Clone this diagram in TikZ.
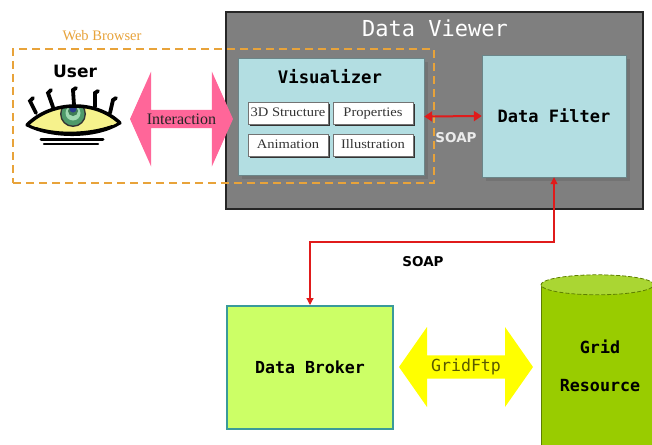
\documentclass[tikz,border=0pt]{standalone}
\usepackage{fontspec}
\setmainfont{Liberation Serif}
\newfontfamily\monofont{DejaVu Sans Mono}
\newfontfamily\sansfont{DejaVu Sans}
\usetikzlibrary{shapes.arrows, arrows.meta, shadows}

\definecolor{viewergray}{HTML}{7F7F7F}
\definecolor{panelblue}{HTML}{B3DEE2}
\definecolor{browserorange}{HTML}{E8A33A}
\definecolor{linkred}{HTML}{E01B1B}
\definecolor{brokergreen}{HTML}{CCFF66}
\definecolor{brokeredge}{HTML}{3A9A9A}
\definecolor{resourcegreen}{HTML}{99CC00}
\definecolor{resourcetop}{HTML}{AAD633}
\definecolor{resourceedge}{HTML}{5E7F00}
\definecolor{ftpyellow}{HTML}{FFFF00}
\definecolor{ftptext}{HTML}{5A5A00}
\definecolor{interpink}{HTML}{FF6699}
\definecolor{eyeyellow}{HTML}{F6F28C}
\definecolor{irisgreen}{HTML}{4E9A6A}
\definecolor{irislight}{HTML}{9FD8B0}
\definecolor{pupilblue}{HTML}{2A3C8C}

\newcommand\monoat[1]{\monofont\fontsize{#1}{#1}\selectfont}
\newcommand\sansat[1]{\sansfont\fontsize{#1}{#1}\selectfont}
\newcommand\serifat[1]{\fontsize{#1}{#1}\selectfont}
% slightly widened serif labels for the Visualizer parts
\newcommand\partlabel[1]{\scalebox{1.12}[1]{#1}}

\tikzset{
  viewerbox/.style={fill=viewergray, draw=black!85, line width=1.5pt, inner sep=0},
  browserbox/.style={draw=browserorange, line width=2pt, dash pattern=on 8pt off 5pt, inner sep=0},
  panel/.style={fill=panelblue, draw=panelblue!60!black, line width=0.4pt, inner sep=0,
    drop shadow={shadow xshift=4pt, shadow yshift=-4pt, fill=black!55, opacity=1}},
  subbox/.style={fill=white, draw=black!55, line width=0.4pt, inner sep=0,
    minimum width=80pt, minimum height=22pt, text height=8.5pt, text depth=2.5pt,
    font=\serifat{13}, text=black!80,
    drop shadow={shadow xshift=1.5pt, shadow yshift=-1.5pt, fill=black!80, opacity=1}},
  broker/.style={fill=brokergreen, draw=brokeredge, line width=2pt, inner sep=0},
  linkarrow/.style={draw=linkred, line width=1.2pt,
    {Triangle[length=7pt,width=7pt]}-{Triangle[length=7pt,width=7pt]}},
  soaparrow/.style={draw=linkred, line width=2pt,
    {Triangle[length=8pt,width=10pt]}-{Triangle[length=8pt,width=10pt]}},
  fatarrow/.style={double arrow, inner sep=0, draw=none},
  label/.style={inner sep=0},
  lash/.style={line width=3.8pt, line cap=round, black},
}

\begin{document}
\begin{tikzpicture}[x=1pt,y=-1pt]
\clip (0,0) rectangle (652,444);
\fill[white] (0,0) rectangle (652,444);

% Data Viewer container
\node[viewerbox, minimum width=417pt, minimum height=197pt] (viewer) at (434.5,110.5) {};
\node[label, text=white, font=\monoat{22}] (viewertitle) at (435,28) {Data Viewer};

% Web Browser region
\node[browserbox, minimum width=421pt, minimum height=134pt] (browser) at (223.5,116) {};
\node[label, text=browserorange, font=\serifat{14.5}] (browsertitle) at (102,36) {Web Browser};

% Visualizer panel and its parts
\node[panel, minimum width=186pt, minimum height=117pt] (vis) at (331,116.5) {};
\node[label, font=\monoat{17.3}\bfseries] (vistitle) at (330,77) {Visualizer};
\node[subbox] (struct) at (288,113) {\partlabel{3D Structure}};
\node[subbox] (props) at (373,113) {\partlabel{Properties}};
\node[subbox] (anim) at (288,145.5) {\partlabel{Animation}};
\node[subbox] (illus) at (373,145.5) {\partlabel{Illustration}};

% Data Filter panel
\node[panel, minimum width=144pt, minimum height=122pt, font=\monoat{17}\bfseries] (filter) at (554,116) {Data Filter};

% SOAP between Visualizer and Data Filter
\draw[soaparrow] (vis.east) -- (filter.west);
\node[label, text=white!92!black, font=\sansat{13.5}\bfseries] (soapin) at (456,138) {SOAP};

% Data Broker
\node[broker, minimum width=166pt, minimum height=123pt, font=\monoat{16.6}\bfseries] (broker) at (310,367.5) {Data Broker};

% SOAP between Data Filter and Data Broker
\coordinate (soaplevel) at (0,242);
\draw[linkarrow] (filter.south) -- (filter.south |- soaplevel) -| (broker.north);
\node[label, font=\sansat{13.5}\bfseries] (soapout) at (423,262) {SOAP};

% Grid Resource cylinder
\node[label, minimum width=113pt, minimum height=170pt] (resource) at (597.5,368) {};
\fill[resourcegreen, draw=resourceedge, line width=0.6pt]
  (resource.north west) -- ([yshift=-10pt]resource.south west)
  -- ([yshift=-10pt]resource.south east) -- (resource.north east);
\draw[fill=resourcetop, draw=resourceedge, line width=0.8pt, dash pattern=on 4pt off 2pt]
  ([yshift=-2pt]resource.north) ellipse [x radius=56.5pt, y radius=10pt];
\node[label, align=center, font=\monoat{16.7}\bfseries] (resourcetext) at (600,366)
  {Grid\\[21pt]Resource};

% GridFtp transfer
\node[fatarrow, fill=ftpyellow, minimum height=134pt, minimum width=80pt,
  double arrow head extend=20pt, double arrow tip angle=110,
  font=\monoat{16.6}, text=ftptext] (ftp) at (466,367) {GridFtp};

% Interaction between User and Visualizer
\node[fatarrow, fill=interpink, minimum height=103pt, minimum width=95pt,
  double arrow head extend=23.5pt, double arrow tip angle=132,
  font=\serifat{16}, text=black!85] (interaction) at (181.5,119) {Interaction};

% User
\node[label, font=\sansat{17}\bfseries] (usertitle) at (75,71) {User};

% Eye
\coordinate (eye) at (74,116);
\begin{scope}[shift={(eye)}]
  \path[fill=eyeyellow] (-47,9) .. controls (-22,-16) and (22,-16) .. (46,7)
    .. controls (22,22) and (-22,22) .. cycle;
  \begin{scope}
    \clip (-47,9) .. controls (-22,-16) and (22,-16) .. (46,7)
      .. controls (22,22) and (-22,22) .. cycle;
    \fill[black!80] (-1,-2) circle [radius=13pt];
    \fill[irisgreen] (-1,-2) circle [radius=11.5pt];
    \fill[irislight] (-1,-3) circle [radius=7.5pt];
    \fill[irisgreen!80!black] (-1,-5) circle [radius=5pt];
    \fill[pupilblue] (-1,-7) circle [radius=3.5pt];
  \end{scope}
  \draw[line width=3.5pt, line cap=round] (-47,9) .. controls (-22,-16) and (22,-16) .. (46,7);
  \draw[line width=3pt, line cap=round] (46,7) .. controls (22,22) and (-22,22) .. (-47,9);
  \draw[line width=2pt, line cap=round] (-38,12) .. controls (-15,19) and (15,18) .. (38,10);
  % lashes
  \draw[lash] (-38,-3) .. controls (-41,-9) .. (-44,-15) -- (-41,-18);
  \draw[lash] (-21,-9) .. controls (-23,-16) .. (-26,-23) -- (-23,-26);
  \draw[lash] (0,-11) .. controls (0,-19) .. (-1,-26) -- (2,-28);
  \draw[lash] (21,-9) .. controls (21,-16) .. (21,-23) -- (24,-25);
  \draw[lash] (36,-3) .. controls (38,-10) .. (39,-16) -- (42,-18);
  % strokes under the eye
  \draw[line width=3pt, line cap=round] (-33,23) -- (29,23);
  \draw[line width=2.5pt, line cap=round] (-30,28) -- (24,28);
\end{scope}

\end{tikzpicture}
\end{document}
